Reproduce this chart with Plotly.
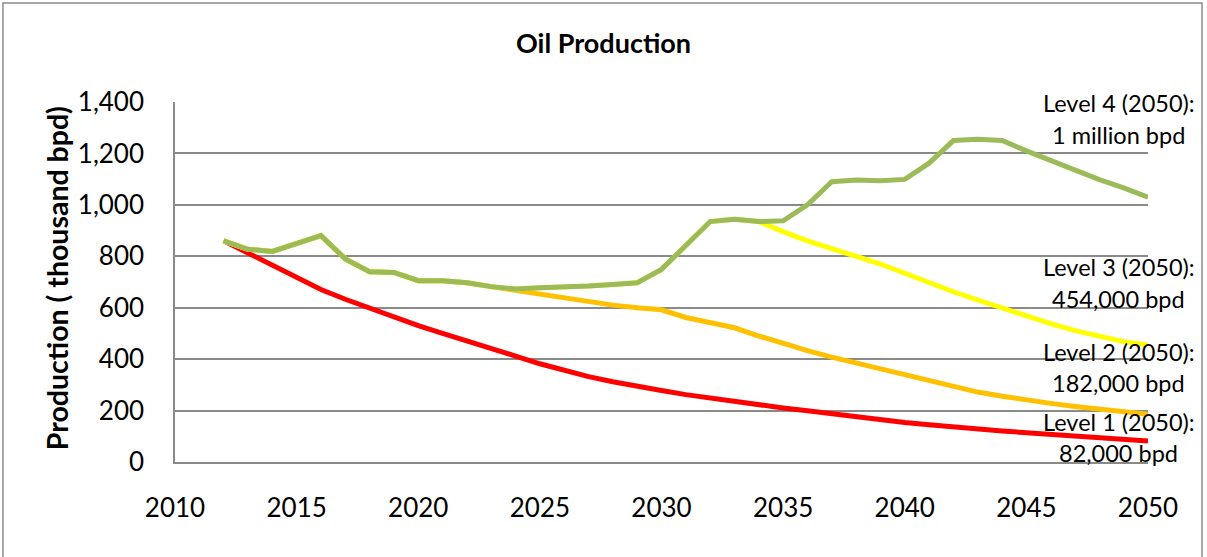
import plotly.graph_objects as go

years = list(range(2012, 2051))

level4 = [860, 827, 819, 850, 880, 790, 740, 737, 705, 705, 697, 682, 673, 678, 680,
          684, 690, 697, 749, 844, 935, 944, 935, 938, 1000, 1090, 1097, 1094, 1099,
          1162, 1250, 1255, 1250, 1210, 1172, 1135, 1098, 1066, 1030]
level3 = [860, 827, 819, 850, 880, 790, 740, 737, 705, 705, 697, 682, 673, 678, 680,
          684, 690, 697, 749, 844, 935, 944, 935, 896, 860, 830, 800, 770, 734,
          697, 662, 630, 598, 567, 538, 511, 487, 468, 455]
level2 = [860, 827, 819, 850, 880, 790, 740, 737, 705, 705, 697, 682, 668, 652, 638,
          623, 610, 600, 592, 562, 542, 522, 490, 459, 433, 408, 385, 362, 339,
          314, 292, 272, 256, 241, 228, 216, 205, 195, 186]
level1 = [860, 813, 766, 716, 671, 633, 597, 563, 530, 500, 472, 442, 412, 382, 355,
          332, 312, 293, 278, 262, 248, 234, 222, 210, 199, 187, 176, 164, 154,
          145, 136, 128, 121, 114, 108, 101, 95, 88, 82]

x_ticks = [2010, 2015, 2020, 2025, 2030, 2035, 2040, 2045, 2050]

labels = [
    ("Level 4 (2050):", 1395), ("1 million bpd", 1272),
    ("Level 3 (2050):", 758), ("454,000 bpd", 635),
    ("Level 2 (2050):", 429), ("182,000 bpd", 306),
    ("Level 1 (2050):", 157), ("82,000 bpd", 34),
]

FONT = "Lato, 'Open Sans', sans-serif"
GRID = "#8a8a8a"

fig = go.Figure()
for vals, color in [(level1, "#FF0000"), (level2, "#FFC000"), (level3, "#FFFF00"), (level4, "#9BBB59")]:
    fig.add_trace(go.Scatter(x=years, y=vals, mode="lines",
                             line=dict(color=color, width=5),
                             showlegend=False, hoverinfo="skip"))

for txt, yv in labels:
    fig.add_annotation(x=0.970, xref="paper", y=yv, yref="y", text=txt,
                       showarrow=False, xanchor="center", yanchor="middle",
                       font=dict(family=FONT, size=23.5, color="black"))

fig.add_annotation(x=-0.1205, xref="paper", y=0.51, yref="paper",
                   text="<b>Production ( thousand bpd)</b>", textangle=-90,
                   showarrow=False, xanchor="center", yanchor="middle",
                   font=dict(family=FONT, size=28.5, color="black"))

fig.add_shape(type="rect", xref="paper", yref="paper",
              x0=-0.1768, x1=1.0555, y0=-0.35, y1=1.275,
              line=dict(color=GRID, width=1.5), layer="below")

fig.update_layout(
    width=1207, height=557,
    margin=dict(l=175, r=59, t=102, b=95),
    paper_bgcolor="white", plot_bgcolor="white",
    title=dict(text="<b>Oil Production</b>", x=0.5, xref="container", xanchor="center",
               y=1 - 44 / 557, yref="container", yanchor="middle",
               font=dict(family=FONT, size=27, color="black")),
    xaxis=dict(range=[2010, 2050], tickvals=x_ticks, showgrid=False, zeroline=False,
               showline=True, linecolor=GRID, linewidth=1.5, ticks="",
               ticklabelstandoff=22,
               tickfont=dict(family=FONT, size=26, color="black")),
    yaxis=dict(range=[0, 1400], dtick=200, tickformat=",", showgrid=True,
               gridcolor=GRID, gridwidth=1.5, zeroline=False,
               showline=True, linecolor=GRID, linewidth=1.5, ticks="",
               ticklabelstandoff=24,
               tickfont=dict(family=FONT, size=26, color="black")),
)

fig.write_html("out.html")
